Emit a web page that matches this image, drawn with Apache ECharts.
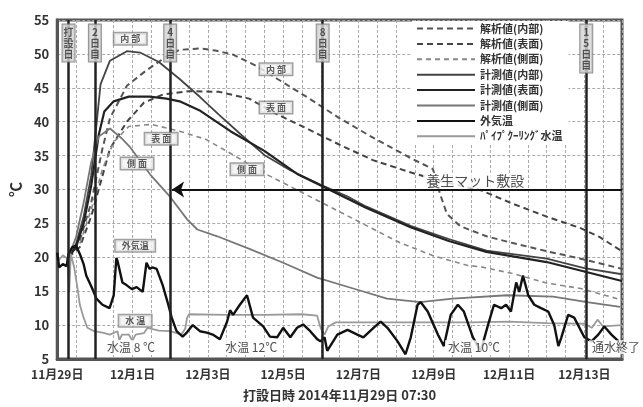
<!DOCTYPE html>
<html>
<head>
<meta charset="utf-8">
<script src="https://cdn.jsdelivr.net/npm/echarts@6/dist/echarts.min.js"></script>
<style>
  html, body { margin: 0; padding: 0; background: #fff; }
  #chart { width: 643px; height: 407px; }
</style>
</head>
<body>
<div id="chart"></div>
<script>
// x軸：打設日 11/29 0:00 からの経過日数
const xDayLabels = ['11月29日', '12月1日', '12月3日', '12月5日', '12月7日', '12月9日', '12月11日', '12月13日'];

// 解析値(内部)
const anaInDays = [0.3, 0.6, 0.9, 1.2, 1.4, 1.85, 2.35, 2.9, 3.25, 3.8, 4.2, 4.67, 5.3, 5.85, 6.7, 7.5, 8.4, 9.4, 9.98, 10.17, 10.35, 10.7, 11.4, 12.1, 13.0, 13.9, 15.0];
const anaInVals = [20, 22.5, 28, 36, 40.5, 45.3, 47.5, 49.6, 50.6, 50.8, 50.5, 49.9, 48.2, 46.3, 43.4, 40.5, 37.6, 34.6, 33.0, 29.3, 26.4, 24.6, 23.1, 22.1, 20.9, 19.8, 18.3];

// 解析値(表面)
const anaSurfDays = [0.3, 0.6, 0.9, 1.2, 1.4, 1.85, 2.3, 2.8, 3.5, 4.3, 5.1, 5.8, 6.7, 7.5, 8.4, 9.4, 10.2, 11.25, 12.1, 13.0, 13.9, 14.4, 15.0];
const anaSurfVals = [20, 21.5, 26, 32, 36, 40, 42.8, 44, 44.5, 44.4, 43.4, 41.2, 38.8, 36.6, 34.3, 32.5, 31.2, 29.9, 27.9, 26, 24.3, 23, 20.9];

// 解析値(側面)
const anaSideDays = [0.3, 0.6, 0.9, 1.2, 1.5, 1.9, 2.5, 3.25, 3.95, 4.67, 5.57, 6.45, 7.33, 8.24, 9.12, 10.0, 10.9, 11.25, 12.1, 13.0, 13.9, 15.0];
const anaSideVals = [20, 22, 27, 33, 37, 39.3, 39.6, 38.6, 37.4, 35.1, 32.2, 29.7, 27.2, 24.6, 22.1, 20.2, 18.8, 18.6, 17.6, 16.2, 15.4, 13.7];

// 計測値(内部)
const meaInDays = [0.3, 0.5, 0.7, 0.9, 1.05, 1.15, 1.4, 1.85, 2.2, 2.7, 3.25, 3.8, 4.3, 4.9, 5.5, 6.2, 7.0, 7.7, 8.2, 9.4, 10.4, 11.4, 13.0, 14.0, 15.0];
const meaInVals = [20, 22, 26, 32, 40, 45.5, 49, 50.4, 50.2, 48.8, 46.3, 43.6, 41, 38, 35.1, 32.8, 30.7, 29, 27.5, 24.6, 22.7, 21, 19.8, 18.4, 17.5];

// 計測値(表面)
const meaSurfDays = [0.3, 0.5, 0.7, 0.9, 1.1, 1.25, 1.5, 1.9, 2.45, 2.9, 3.25, 3.8, 4.6, 5.5, 6.4, 7.0, 8.2, 9.4, 10.4, 11.4, 13.0, 14.0, 15.0];
const meaSurfVals = [20, 21.5, 25, 30.5, 38, 41.5, 43, 43.7, 43.7, 43.4, 43, 41.6, 38.6, 35.7, 32.2, 30.6, 27.3, 24.4, 22.4, 20.8, 19.3, 17.9, 16.5];

// 計測値(側面)
const meaSideDays = [0.3, 0.5, 0.7, 0.9, 1.1, 1.4, 1.7, 1.94, 2.47, 3.0, 3.45, 3.72, 4.25, 5.12, 6.0, 6.9, 7.86, 8.76, 9.64, 10.5, 11.95, 13.17, 14.07, 14.95];
const meaSideVals = [20, 23, 28, 34, 37.8, 39, 37.6, 36.2, 32.2, 28.9, 25.6, 24.1, 23.1, 21.2, 19.2, 17, 15.4, 13.9, 13.4, 13.9, 14.4, 14.2, 13.4, 12.7];

// 外気温
const airDays = [0, 0.05, 0.15, 0.25, 0.3, 0.4, 0.5, 0.6, 0.7, 0.77, 0.93, 1.04, 1.2, 1.39, 1.5, 1.57, 1.6, 1.73, 1.84, 1.98, 2.11, 2.27, 2.37, 2.45, 2.53, 2.64, 2.8, 2.93, 3.04, 3.17, 3.33, 3.44, 3.6, 3.79, 3.97, 4.13, 4.32, 4.51, 4.59, 4.67, 4.85, 5.04, 5.2, 5.47, 5.65, 5.84, 6.0, 6.19, 6.37, 6.53, 6.72, 6.91, 6.99, 7.1, 7.17, 7.44, 7.71, 7.97, 8.13, 8.4, 8.59, 8.77, 9.04, 9.25, 9.39, 9.57, 9.65, 9.84, 10.11, 10.27, 10.45, 10.64, 10.8, 11.04, 11.25, 11.44, 11.6, 11.79, 11.92, 12.05, 12.19, 12.27, 12.37, 12.51, 12.67, 12.85, 13.04, 13.2, 13.31, 13.39, 13.57, 13.73, 14.0, 14.19, 14.37, 14.53, 14.72, 14.91];
const airVals = [20.7, 18.5, 19, 18.7, 20.5, 21.5, 21.7, 20.5, 19, 17.3, 15.4, 13.9, 13, 12.5, 14.4, 19.9, 19.5, 16.3, 15.9, 15.3, 15.6, 14.9, 19.2, 18.3, 18.5, 18.3, 15.9, 13.4, 11.1, 9.1, 8.3, 8.9, 10, 9.1, 8.9, 8.6, 7.9, 10.5, 12.2, 11.5, 13, 14.4, 11.1, 9.8, 8.3, 8.2, 9.6, 8.2, 9.6, 10.1, 9.1, 7.9, 7.6, 8.2, 6.2, 8.6, 9.3, 8.6, 8.2, 9.6, 10.5, 9.6, 7.6, 5.7, 8.2, 13, 13.4, 12, 8.6, 6.9, 11.5, 13, 12, 8.2, 6.2, 10, 13, 12.5, 13, 12, 16.3, 14.9, 17.3, 14.4, 13, 12.5, 12, 10, 6.9, 8.2, 11.5, 11.1, 8.2, 7.6, 8.6, 9.8, 8.6, 7.6];

// ﾊﾟｲﾌﾟｸｰﾘﾝｸﾞ水温
const waterDays = [0, 0.15, 0.27, 0.32, 0.36, 0.45, 0.55, 0.6, 0.7, 0.8, 0.98, 1.2, 1.4, 1.6, 1.65, 1.72, 1.9, 2.0, 2.08, 2.3, 2.4, 2.7, 3.0, 3.3, 3.4, 3.45, 3.5, 4.5, 5.5, 6.5, 6.9, 7.0, 7.1, 7.2, 7.4, 9.0, 11.0, 12.0, 13.0, 14.0, 14.2, 14.35, 14.5, 15.0];
const waterVals = [19.3, 20.3, 19.8, 15, 20.5, 18.5, 15, 13, 11.1, 9.6, 9.1, 8.9, 8.6, 9.1, 7.8, 8.6, 8.6, 7.7, 8.6, 8.8, 9.6, 9.2, 9.1, 8.6, 9.5, 11.1, 11.6, 11.5, 11.5, 11.6, 11.4, 9.5, 8.6, 9.8, 10.4, 10.4, 10.4, 10.5, 10.3, 10.2, 9.6, 10.8, 9.8, 10];

// 縦線（打設日・材齢）
const markerDays = [0.3, 1.0, 3.0, 7.05, 14.05];
const markerNames = ['打設日', '2日目', '4日目', '8日目', '15日目'];

// 曲線の注記
const noteDays = [1.94, 5.81, 2.76, 5.81, 2.12, 5.04, 2.07, 2.07];
const noteVals = [52.25, 47.75, 37.5, 42.1, 33.85, 33.0, 21.7, 10.65];
const noteTexts = ['内 部', '内 部', '表 面', '表 面', '側 面', '側 面', '外気温', '水 温'];

// 下部の注記
const bottomDays = [1.96, 5.15, 11.07, 14.84];
const bottomTexts = ['水温 8 ℃', '水温 12℃', '水温 10℃', '通水終了'];

const FONT = 'Noto Sans CJK JP';
const zip = (xs, ys) => xs.map((x, i) => [x, ys[i]]);

const lineSeries = (name, days, vals, color, width, type) => ({
  name,
  type: 'line',
  data: zip(days, vals),
  symbol: 'none',
  smooth: false,
  lineStyle: { color, width, type },
  itemStyle: { color },
  z: 2
});

const chart = echarts.init(document.getElementById('chart'));

chart.setOption({
  animation: false,
  backgroundColor: '#fff',
  textStyle: { fontFamily: FONT },
  grid: {
    left: 57,
    right: 21,
    top: 20,
    bottom: 42,
    show: true,
    borderColor: '#555',
    borderWidth: 3
  },
  legend: {
    orient: 'vertical',
    left: 412,
    top: 21,
    itemWidth: 58,
    itemHeight: 12,
    itemGap: 4.4,
    padding: [2, 6, 2, 4],
    backgroundColor: '#fff',
    itemStyle: { opacity: 0 },
    textStyle: { fontSize: 11, fontWeight: 'bold', color: '#333', fontFamily: FONT },
    data: ['解析値(内部)', '解析値(表面)', '解析値(側面)', '計測値(内部)', '計測値(表面)', '計測値(側面)', '外気温', 'ﾊﾟｲﾌﾟｸｰﾘﾝｸﾞ水温']
  },
  xAxis: {
    type: 'value',
    min: 0,
    max: 15,
    interval: 0.5,
    name: '打設日時 2014年11月29日 07:30',
    nameLocation: 'middle',
    nameGap: 30,
    nameTextStyle: { fontSize: 13, fontWeight: 'bold', color: '#333', fontFamily: FONT },
    axisLine: { show: true, lineStyle: { color: '#555', width: 3 } },
    axisTick: { show: false },
    axisLabel: {
      fontSize: 12,
      fontWeight: 'bold',
      color: '#333',
      margin: 9,
      formatter: v => (Math.abs(v % 2) < 1e-6 ? xDayLabels[v / 2] : '')
    },
    splitLine: { show: true, lineStyle: { color: '#aaa', type: [3, 2], width: 1 } }
  },
  yAxis: {
    type: 'value',
    min: 5,
    max: 55,
    interval: 5,
    name: '℃',
    nameLocation: 'middle',
    nameGap: 33,
    nameTextStyle: { fontSize: 15, fontWeight: 'bold', color: '#333', fontFamily: FONT },
    axisLine: { show: true, lineStyle: { color: '#555', width: 3 } },
    axisTick: { show: false },
    axisLabel: { fontSize: 13, fontWeight: 'bold', color: '#333', margin: 8 },
    splitLine: { show: true, lineStyle: { color: '#aaa', type: [3, 2], width: 1 } }
  },
  series: [
    lineSeries('解析値(内部)', anaInDays, anaInVals, '#555', 2, [6, 4]),
    lineSeries('解析値(表面)', anaSurfDays, anaSurfVals, '#444', 2, [6, 4]),
    lineSeries('解析値(側面)', anaSideDays, anaSideVals, '#888', 1.6, [5, 4]),
    lineSeries('計測値(内部)', meaInDays, meaInVals, '#444', 1.8, 'solid'),
    lineSeries('計測値(表面)', meaSurfDays, meaSurfVals, '#222', 2.2, 'solid'),
    lineSeries('計測値(側面)', meaSideDays, meaSideVals, '#777', 1.8, 'solid'),
    lineSeries('ﾊﾟｲﾌﾟｸｰﾘﾝｸﾞ水温', waterDays, waterVals, '#9a9a9a', 1.8, 'solid'),
    lineSeries('外気温', airDays, airVals, '#111', 2.4, 'solid'),
    {
      // 材齢の縦線
      type: 'scatter',
      data: [],
      silent: true,
      markLine: {
        silent: true,
        symbol: ['none', 'none'],
        label: { show: false },
        lineStyle: { color: '#222', width: 2.5, type: 'solid' },
        data: markerDays.map(d => ({ xAxis: d }))
      },
      z: 3
    },
    {
      // 養生マット敷設の矢印
      type: 'scatter',
      data: [],
      silent: true,
      markLine: {
        silent: true,
        symbol: ['none', 'arrow'],
        symbolSize: 12,
        label: { show: false },
        lineStyle: { color: '#111', width: 2, type: 'solid' },
        itemStyle: { color: '#111' },
        data: [[{ coord: [15, 30] }, { coord: [3.05, 30] }]]
      },
      z: 3
    },
    {
      // 縦線ラベル
      type: 'scatter',
      silent: true,
      symbolSize: 1,
      itemStyle: { color: 'transparent' },
      data: markerDays.map((d, i) => ({ value: [d, 54.4], name: markerNames[i] })),
      label: {
        show: true,
        position: 'bottom',
        distance: 0,
        formatter: p => p.name.split('').join('\n'),
        fontSize: 10,
        lineHeight: 11,
        fontWeight: 'bold',
        color: '#333',
        fontFamily: FONT,
        backgroundColor: '#d4d4d4',
        borderColor: '#777',
        borderWidth: 1,
        padding: [2, 1]
      },
      z: 5
    },
    {
      // 曲線注記
      type: 'scatter',
      silent: true,
      symbolSize: 1,
      itemStyle: { color: 'transparent' },
      data: noteDays.map((d, i) => ({ value: [d, noteVals[i]], name: noteTexts[i] })),
      label: {
        show: true,
        position: 'inside',
        formatter: p => p.name,
        fontSize: 9,
        fontWeight: 'bold',
        color: '#333',
        fontFamily: FONT,
        backgroundColor: '#f2f2f2',
        borderColor: '#888',
        borderWidth: 1.5,
        padding: [1, 6]
      },
      z: 5
    },
    {
      // 下部注記
      type: 'scatter',
      silent: true,
      symbolSize: 1,
      itemStyle: { color: 'transparent' },
      data: bottomDays.map((d, i) => ({ value: [d, 6.74], name: bottomTexts[i] })),
      label: {
        show: true,
        position: 'inside',
        formatter: p => p.name,
        fontSize: 12,
        color: '#222',
        fontFamily: FONT,
        backgroundColor: '#fff',
        padding: [1, 3]
      },
      z: 5
    },
    {
      // 養生マット敷設
      type: 'scatter',
      silent: true,
      symbolSize: 1,
      itemStyle: { color: 'transparent' },
      data: [{ value: [11.1, 31.3], name: '養生マット敷設' }],
      label: {
        show: true,
        position: 'inside',
        formatter: p => p.name,
        fontSize: 14,
        color: '#222',
        fontFamily: FONT,
        backgroundColor: '#fff',
        padding: [1, 3]
      },
      z: 5
    }
  ]
});
</script>
</body>
</html>
